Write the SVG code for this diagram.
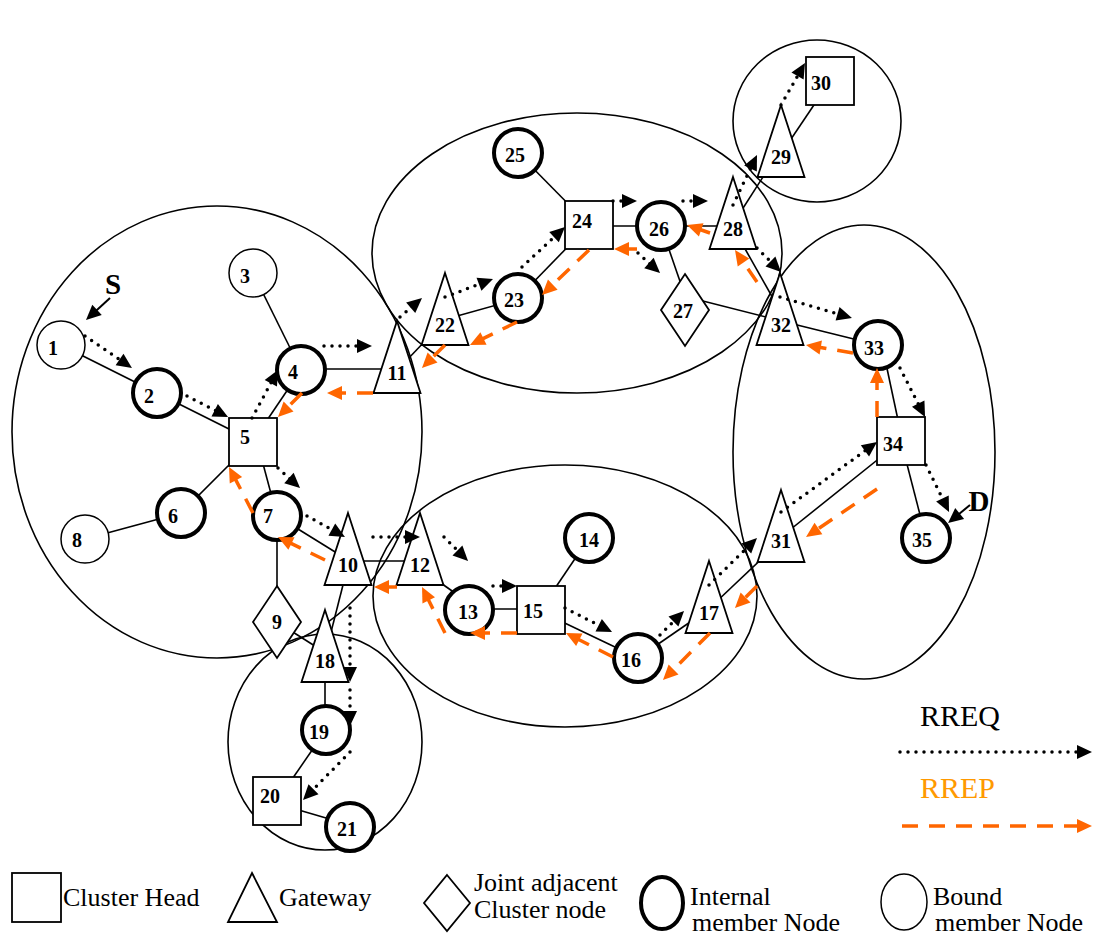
<svg xmlns="http://www.w3.org/2000/svg" width="1094" height="935" viewBox="0 0 1094 935">
  <style>
    .cl { fill: none; stroke: #000; stroke-width: 1.6; }
    .ln { fill: none; stroke: #000; stroke-width: 1.6; }
    .sh { fill: #fff; stroke: #000; stroke-width: 1.8; }
    .in { fill: #fff; stroke: #000; stroke-width: 4; }
    .bd { fill: #fff; stroke: #000; stroke-width: 1.5; }
    .lb { font-family: "Liberation Serif", "Times New Roman", serif; font-weight: bold; font-size: 20px; text-anchor: middle; fill: #000; }
    .big { font-family: "Liberation Serif", "Times New Roman", serif; font-weight: bold; font-size: 29px; text-anchor: middle; fill: #000; }
    .lg { font-family: "Liberation Serif", "Times New Roman", serif; font-size: 26px; fill: #000; }
    .rq { fill: none; stroke: #000; stroke-width: 3.5; stroke-linecap: round; stroke-dasharray: 0 8; marker-end: url(#ahK); }
    .rp { fill: none; stroke: #FF6600; stroke-width: 3.5; stroke-dasharray: 16 11; marker-end: url(#ahO); }
    .pt { fill: none; stroke: #000; stroke-width: 2; marker-end: url(#ahK); }
  </style>
  <defs>
    <marker id="ahK" markerUnits="userSpaceOnUse" markerWidth="15" markerHeight="14" refX="9" refY="7" orient="auto" overflow="visible">
      <path d="M0,0 L15,7 L0,14 Z" fill="#000"/>
    </marker>
    <marker id="ahO" markerUnits="userSpaceOnUse" markerWidth="15" markerHeight="14" refX="9" refY="7" orient="auto" overflow="visible">
      <path d="M0,0 L15,7 L0,14 Z" fill="#FF6600"/>
    </marker>
    <path id="tri" d="M0,0 L23.5,72 L-23.5,72 Z"/>
    <rect id="sq" width="48" height="48"/>
    <path id="dia" d="M0,-36 L24,0 L0,36 L-24,0 Z"/>
  </defs>
  <rect width="1094" height="935" fill="#fff"/>

  <!-- cluster boundaries -->
  <g id="clusters">
    <ellipse class="cl" cx="217" cy="432" rx="205" ry="226"/>
    <ellipse class="cl" cx="577" cy="253" rx="205" ry="140"/>
    <ellipse class="cl" cx="817" cy="121" rx="84" ry="81"/>
    <ellipse class="cl" cx="864" cy="452" rx="131" ry="227"/>
    <ellipse class="cl" cx="565" cy="596" rx="192" ry="131"/>
    <ellipse class="cl" cx="325" cy="742" rx="97" ry="108"/>
  </g>

  <!-- physical links -->
  <g id="links">
    <line class="ln" x1="61" y1="345" x2="157" y2="393"/>
    <line class="ln" x1="157" y1="393" x2="253" y2="441"/>
    <line class="ln" x1="253" y1="273" x2="301" y2="370"/>
    <line class="ln" x1="301" y1="370" x2="253" y2="441"/>
    <line class="ln" x1="301" y1="369" x2="397" y2="369"/>
    <line class="ln" x1="253" y1="441" x2="181" y2="513"/>
    <line class="ln" x1="262" y1="460" x2="277" y2="516"/>
    <line class="ln" x1="181" y1="513" x2="85" y2="539"/>
    <line class="ln" x1="277" y1="516" x2="277" y2="622"/>
    <line class="ln" x1="277" y1="516" x2="340" y2="555"/>
    <line class="ln" x1="277" y1="622" x2="318" y2="648"/>
    <line class="ln" x1="348" y1="561" x2="420" y2="561"/>
    <line class="ln" x1="344" y1="581" x2="329" y2="640"/>
    <line class="ln" x1="405" y1="362" x2="428" y2="338"/>
    <line class="ln" x1="438" y1="581" x2="469" y2="603"/>
    <line class="ln" x1="469" y1="609" x2="541" y2="609"/>
    <line class="ln" x1="589" y1="538" x2="541" y2="609"/>
    <line class="ln" x1="550" y1="616" x2="638" y2="658"/>
    <line class="ln" x1="638" y1="658" x2="709" y2="609"/>
    <line class="ln" x1="715" y1="603" x2="770" y2="551"/>
    <line class="ln" x1="781" y1="537" x2="901" y2="441"/>
    <line class="ln" x1="882" y1="345" x2="898" y2="420"/>
    <line class="ln" x1="901" y1="441" x2="926" y2="538"/>
    <line class="ln" x1="781" y1="321" x2="878" y2="345"/>
    <line class="ln" x1="695" y1="299" x2="770" y2="318"/>
    <line class="ln" x1="740" y1="240" x2="774" y2="300"/>
    <line class="ln" x1="664" y1="235" x2="683" y2="290"/>
    <line class="ln" x1="589" y1="226" x2="733" y2="226"/>
    <line class="ln" x1="589" y1="225" x2="518" y2="153"/>
    <line class="ln" x1="518" y1="298" x2="589" y2="225"/>
    <line class="ln" x1="450" y1="318" x2="518" y2="299"/>
    <line class="ln" x1="738" y1="216" x2="770" y2="166"/>
    <line class="ln" x1="787" y1="145" x2="820" y2="96"/>
    <line class="ln" x1="325" y1="660" x2="325" y2="730"/>
    <line class="ln" x1="326" y1="730" x2="277" y2="801"/>
    <line class="ln" x1="285" y1="806" x2="350" y2="825"/>
  </g>

  <!-- nodes -->
  <g id="n1"><circle class="bd" cx="61" cy="345" r="24"/><text class="lb" x="53" y="355">1</text></g>
  <g id="n2"><circle class="in" cx="157" cy="393" r="24"/><text class="lb" x="149" y="403">2</text></g>
  <g id="n3"><circle class="bd" cx="253" cy="273" r="24"/><text class="lb" x="245" y="283">3</text></g>
  <g id="n4"><circle class="in" cx="301" cy="370" r="24"/><text class="lb" x="293" y="379">4</text></g>
  <g id="n5"><use href="#sq" class="sh" x="229" y="418"/><text class="lb" x="245" y="444">5</text></g>
  <g id="n6"><circle class="in" cx="181" cy="513" r="24"/><text class="lb" x="173" y="523">6</text></g>
  <g id="n7"><circle class="in" cx="277" cy="516" r="24"/><text class="lb" x="268" y="523">7</text></g>
  <g id="n8"><circle class="bd" cx="85" cy="539" r="24"/><text class="lb" x="77" y="547">8</text></g>
  <g id="n9"><use href="#dia" class="sh" x="277" y="622"/><text class="lb" x="277" y="629">9</text></g>
  <g id="n10"><use href="#tri" class="sh" x="348" y="513"/><text class="lb" x="348" y="572">10</text></g>
  <g id="n11"><use href="#tri" class="sh" x="397" y="321"/><text class="lb" x="397" y="380">11</text></g>
  <g id="n12"><use href="#tri" class="sh" x="420" y="513"/><text class="lb" x="420" y="572">12</text></g>
  <g id="n13"><circle class="in" cx="469" cy="610" r="24"/><text class="lb" x="468" y="619">13</text></g>
  <g id="n14"><circle class="in" cx="589" cy="538" r="24"/><text class="lb" x="589" y="547">14</text></g>
  <g id="n15"><use href="#sq" class="sh" x="517" y="586"/><text class="lb" x="533" y="618">15</text></g>
  <g id="n16"><circle class="in" cx="638" cy="658" r="24"/><text class="lb" x="631" y="667">16</text></g>
  <g id="n17"><use href="#tri" class="sh" x="709" y="561"/><text class="lb" x="709" y="620">17</text></g>
  <g id="n18"><use href="#tri" class="sh" x="325" y="610"/><text class="lb" x="325" y="668">18</text></g>
  <g id="n19"><circle class="in" cx="326" cy="730" r="24"/><text class="lb" x="319" y="739">19</text></g>
  <g id="n20"><use href="#sq" class="sh" x="253" y="777"/><text class="lb" x="270" y="803">20</text></g>
  <g id="n21"><circle class="in" cx="350" cy="827" r="24"/><text class="lb" x="347" y="836">21</text></g>
  <g id="n22"><use href="#tri" class="sh" x="445" y="273"/><text class="lb" x="445" y="332">22</text></g>
  <g id="n23"><circle class="in" cx="518" cy="298" r="24"/><text class="lb" x="514" y="307">23</text></g>
  <g id="n24"><use href="#sq" class="sh" x="565" y="201"/><text class="lb" x="582" y="228">24</text></g>
  <g id="n25"><circle class="in" cx="518" cy="153" r="24"/><text class="lb" x="515" y="162">25</text></g>
  <g id="n26"><circle class="in" cx="661" cy="226" r="24"/><text class="lb" x="659" y="236">26</text></g>
  <g id="n27"><use href="#dia" class="sh" x="685" y="310"/><text class="lb" x="683" y="318">27</text></g>
  <g id="n28"><use href="#tri" class="sh" x="733" y="177"/><text class="lb" x="733" y="236">28</text></g>
  <g id="n29"><use href="#tri" class="sh" x="781" y="105"/><text class="lb" x="781" y="164">29</text></g>
  <g id="n30"><use href="#sq" class="sh" x="806" y="57"/><text class="lb" x="821" y="90">30</text></g>
  <g id="n31"><use href="#tri" class="sh" x="781" y="490"/><text class="lb" x="781" y="548">31</text></g>
  <g id="n32"><use href="#tri" class="sh" x="780" y="273"/><text class="lb" x="781" y="332">32</text></g>
  <g id="n33"><circle class="in" cx="878" cy="345" r="24"/><text class="lb" x="874" y="355">33</text></g>
  <g id="n34"><use href="#sq" class="sh" x="877" y="417"/><text class="lb" x="893" y="451">34</text></g>
  <g id="n35"><circle class="in" cx="926" cy="538" r="24"/><text class="lb" x="922" y="547">35</text></g>

  <!-- source and destination markers -->
  <g id="source">
    <text class="big" x="113" y="294">S</text>
    <line class="pt" x1="110" y1="298" x2="90.4" y2="316"/>
  </g>
  <g id="destination">
    <text class="big" x="979" y="511">D</text>
    <line class="pt" x1="970" y1="505" x2="952.7" y2="519.2"/>
  </g>

  <!-- route request / route reply flows -->
  <g id="connectors">
    <line class="rq" x1="85" y1="336" x2="127" y2="364.6"/>
    <line class="rq" x1="187" y1="396" x2="222.7" y2="414.3"/>
    <line class="rq" x1="252" y1="418" x2="275.1" y2="375.3"/>
    <line class="rq" x1="324" y1="346" x2="366" y2="346"/>
    <line class="rq" x1="278" y1="468" x2="295.6" y2="484"/>
    <line class="rq" x1="307" y1="516" x2="339.7" y2="534.1"/>
    <line class="rq" x1="373" y1="537" x2="414" y2="537"/>
    <line class="rq" x1="444" y1="537" x2="463.8" y2="556.8"/>
    <line class="rq" x1="493" y1="586" x2="511" y2="586"/>
    <line class="rq" x1="565" y1="608" x2="606.7" y2="629.3"/>
    <line class="rq" x1="660" y1="635" x2="679.8" y2="615.2"/>
    <line class="rq" x1="709" y1="585" x2="752.7" y2="542.2"/>
    <line class="rq" x1="781" y1="512" x2="872.2" y2="445.5"/>
    <line class="rq" x1="926" y1="465" x2="946.4" y2="506.6"/>
    <line class="rq" x1="900" y1="368" x2="922.3" y2="411.7"/>
    <line class="rq" x1="780" y1="297" x2="846.2" y2="316.3"/>
    <line class="rq" x1="757" y1="248" x2="776.8" y2="267.8"/>
    <line class="rq" x1="733" y1="205" x2="754.4" y2="160.4"/>
    <line class="rq" x1="781" y1="105" x2="802" y2="68.2"/>
    <line class="rq" x1="683" y1="201" x2="702" y2="201"/>
    <line class="rq" x1="613" y1="201" x2="631" y2="201"/>
    <line class="rq" x1="522" y1="267" x2="560.6" y2="231.1"/>
    <line class="rq" x1="445" y1="297" x2="487.4" y2="281.1"/>
    <line class="rq" x1="400" y1="317" x2="417.5" y2="301.9"/>
    <line class="rq" x1="638" y1="253" x2="655.6" y2="269"/>
    <line class="rq" x1="350" y1="608" x2="350" y2="676"/>
    <line class="rq" x1="350" y1="690" x2="350" y2="720"/>
    <line class="rq" x1="350" y1="752" x2="307.2" y2="795.7"/>

    <line class="rp" x1="373" y1="393" x2="333" y2="393"/>
    <line class="rp" x1="302" y1="393" x2="282.2" y2="412.8"/>
    <line class="rp" x1="325" y1="560" x2="283.4" y2="539.6"/>
    <line class="rp" x1="253" y1="513" x2="231.8" y2="472.3"/>
    <line class="rp" x1="397" y1="587" x2="380" y2="587"/>
    <line class="rp" x1="445" y1="633" x2="424.7" y2="592.4"/>
    <line class="rp" x1="517" y1="633" x2="476" y2="633"/>
    <line class="rp" x1="613" y1="657" x2="571.3" y2="635.7"/>
    <line class="rp" x1="710" y1="633" x2="667.2" y2="675.8"/>
    <line class="rp" x1="757" y1="586" x2="739.2" y2="603.8"/>
    <line class="rp" x1="877" y1="489" x2="811" y2="533.6"/>
    <line class="rp" x1="877" y1="417" x2="877" y2="374"/>
    <line class="rp" x1="853" y1="353" x2="811.9" y2="346"/>
    <line class="rp" x1="757" y1="282" x2="738.4" y2="255"/>
    <line class="rp" x1="710" y1="233" x2="692.7" y2="227"/>
    <line class="rp" x1="637" y1="249" x2="620" y2="249"/>
    <line class="rp" x1="589" y1="250" x2="546.3" y2="290.9"/>
    <line class="rp" x1="517" y1="322" x2="475.4" y2="342.4"/>
    <line class="rp" x1="445" y1="345" x2="426.2" y2="363.8"/>
  </g>

  <!-- message legend -->
  <g id="legend-flows">
    <text x="920" y="726" font-family="Liberation Serif, serif" font-size="30" fill="#000">RREQ</text>
    <line class="rq" x1="900" y1="752" x2="1086" y2="752"/>
    <text x="920" y="798" font-family="Liberation Serif, serif" font-size="30" fill="#FF9900">RREP</text>
    <line class="rp" x1="902" y1="826" x2="1086" y2="826"/>
  </g>

  <!-- node type legend -->
  <g id="legend-types">
    <rect class="sh" x="12" y="873" width="49" height="49"/>
    <text class="lg" x="63" y="906">Cluster Head</text>
    <path class="sh" d="M252,873 L277,922 L228,922 Z"/>
    <text class="lg" x="279" y="906">Gateway</text>
    <path class="sh" d="M447,875 L470,903 L447,931 L424,903 Z"/>
    <text class="lg" x="474" y="891">Joint adjacent</text>
    <text class="lg" x="474" y="918">Cluster node</text>
    <ellipse class="in" cx="662" cy="903" rx="21" ry="26"/>
    <text class="lg" x="690" y="905">Internal</text>
    <text class="lg" x="692" y="931">member Node</text>
    <ellipse class="bd" cx="904" cy="902" rx="23" ry="28"/>
    <text class="lg" x="933" y="905">Bound</text>
    <text class="lg" x="935" y="931">member Node</text>
  </g>
</svg>
